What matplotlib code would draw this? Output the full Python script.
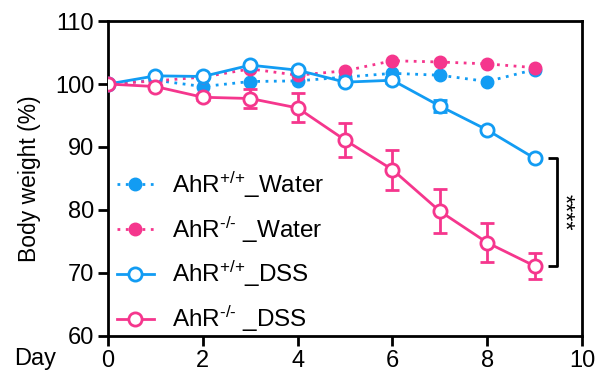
import numpy as np
import matplotlib
matplotlib.use("Agg")
import matplotlib.pyplot as plt
from matplotlib.lines import Line2D

plt.rcParams["font.family"] = ["Liberation Sans", "DejaVu Sans"]
plt.rcParams["mathtext.default"] = "regular"

BLUE = "#129CF3"
PINK = "#F5368D"

days = [0, 1, 2, 3, 4, 5, 6, 7, 8, 9]

wt_water = [100, 100.6, 99.6, 100.4, 100.5, 101.1, 101.7, 101.4, 100.4, 102.3]
ko_water = [100, 100.5, 101.1, 102.4, 101.4, 102.1, 103.7, 103.5, 103.2, 102.6]
wt_dss = [100, 101.3, 101.2, 103.0, 102.2, 100.3, 100.6, 96.5, 92.7, 88.2]
wt_dss_err = [0, 0.3, 0.3, 0.3, 0.3, 0.3, 0.5, 0.9, 0.3, 0.3]
ko_dss = [100, 99.6, 97.9, 97.7, 96.2, 91.1, 86.4, 79.8, 74.8, 71.1]
ko_dss_err = [0, 0.3, 0.5, 1.5, 2.3, 2.7, 3.2, 3.5, 3.1, 2.0]

labels = ["AhR$^{{+}/{+}}$_Water", "AhR$^{\u2010/\u2010}$ _Water",
          "AhR$^{{+}/{+}}$_DSS", "AhR$^{\u2010/\u2010}$ _DSS"]

fig = plt.figure(figsize=(5.97, 3.83), dpi=100)
ax = fig.add_axes([0.181, 0.123, 0.794, 0.822])

lw = 2.0
dot = (0, (1, 2))
ax.plot(days, wt_water, color=BLUE, ls=dot, lw=lw, marker="o",
        ms=9, mfc=BLUE, mec=BLUE, zorder=3)
ax.plot(days, ko_water, color=PINK, ls=dot, lw=lw, marker="o",
        ms=9, mfc=PINK, mec=PINK, zorder=3)
ax.errorbar(days, wt_dss, yerr=wt_dss_err, color=BLUE, lw=lw, marker="o",
            ms=9.5, mfc="white", mec=BLUE, mew=2, capsize=5, capthick=2,
            elinewidth=2, zorder=4)
ax.errorbar(days, ko_dss, yerr=ko_dss_err, color=PINK, lw=lw, marker="o",
            ms=9.5, mfc="white", mec=PINK, mew=2, capsize=5, capthick=2,
            elinewidth=2, zorder=4)

ax.set_xlim(0, 10)
ax.set_ylim(60, 110)
ax.set_xticks(range(0, 11, 2))
ax.set_yticks(range(60, 111, 10))
ax.set_ylabel("Body weight (%)", fontsize=16.5, labelpad=10)
ax.tick_params(labelsize=17, width=2, length=7, direction="out", pad=3)
for s in ax.spines.values():
    s.set_linewidth(2)
ax.text(-0.11, -0.04, "Day", transform=ax.transAxes, fontsize=17,
        ha="right", va="top")

# significance bracket
ax.plot([9.28, 9.47, 9.47, 9.28], [88.2, 88.2, 71.1, 71.1], color="black",
        lw=2, clip_on=False, solid_capstyle="butt")
ax.text(9.6, 79.6, "****", rotation=270, ha="center", va="center",
        fontsize=17)

handles = [
    Line2D([], [], color=BLUE, ls=dot, lw=lw, marker="o", ms=9, mfc=BLUE, mec=BLUE),
    Line2D([], [], color=PINK, ls=dot, lw=lw, marker="o", ms=9, mfc=PINK, mec=PINK),
    Line2D([], [], color=BLUE, lw=lw, marker="o", ms=9.5, mfc="white", mec=BLUE, mew=2),
    Line2D([], [], color=PINK, lw=lw, marker="o", ms=9.5, mfc="white", mec=PINK, mew=2),
]
ax.legend(handles, labels, loc="lower left", bbox_to_anchor=(-0.027, -0.064),
          frameon=False, fontsize=17.5, handlelength=1.5,
          labelspacing=0.6, handletextpad=0.75)

fig.savefig("out.png", dpi=100)
